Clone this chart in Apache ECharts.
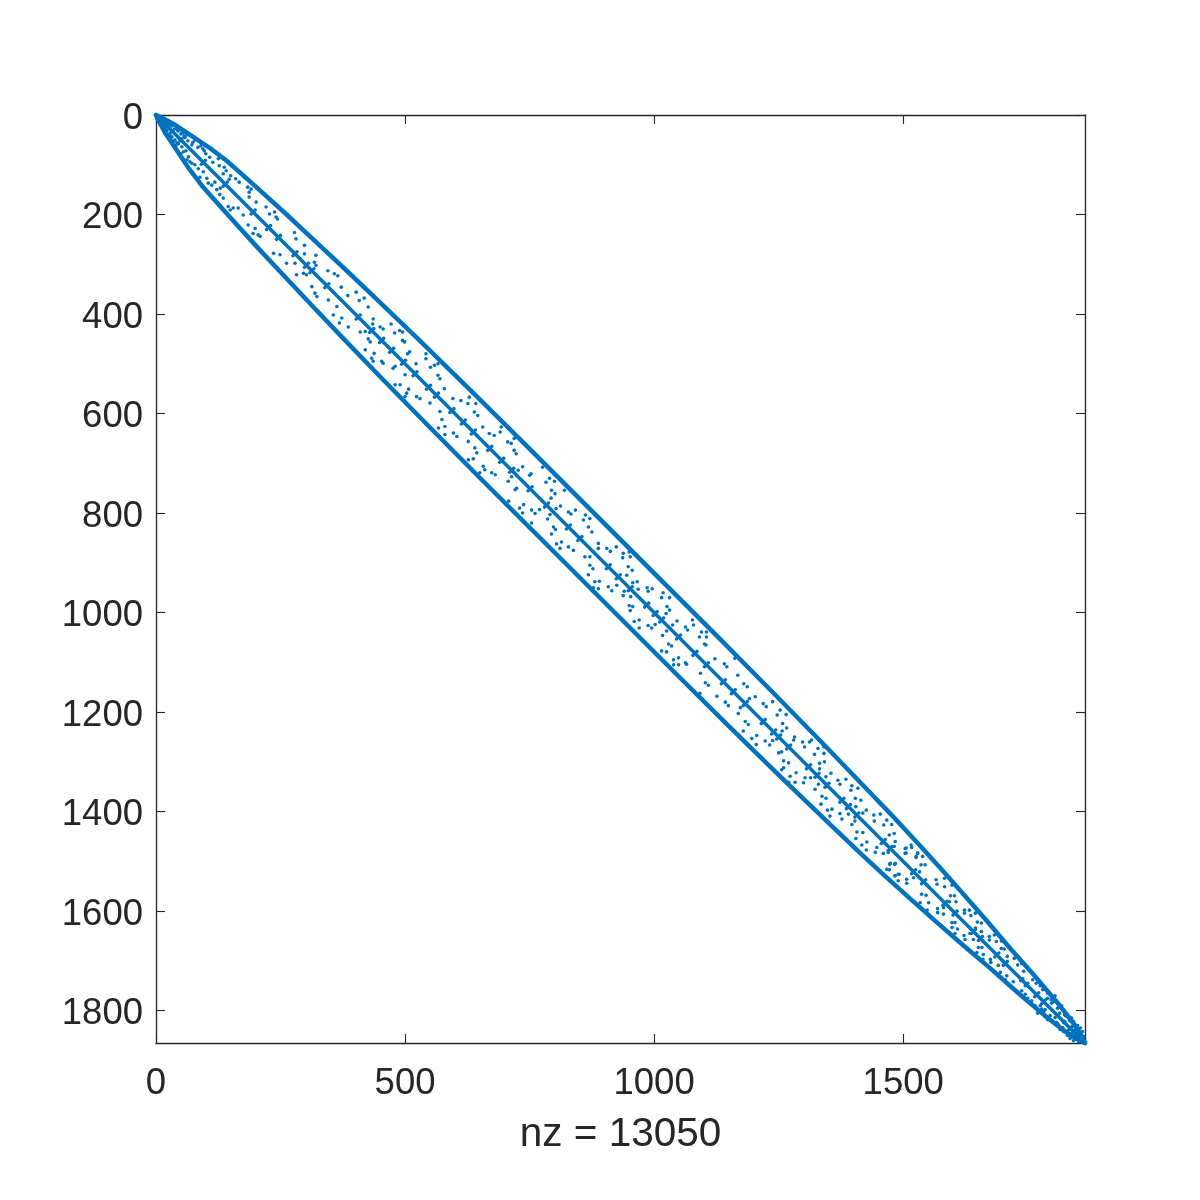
<!DOCTYPE html>
<html>
<head>
<meta charset="utf-8">
<style>html,body{margin:0;padding:0;background:#fff}#c{width:1200px;height:1200px}</style>
<script src="https://cdn.jsdelivr.net/npm/echarts@6/dist/echarts.min.js"></script>
</head>
<body>
<div id="c"></div>
<script>
const matrixSize = 1865;
const xTicks = [0, 500, 1000, 1500];
const yTicks = [0, 200, 400, 600, 800, 1000, 1200, 1400, 1600, 1800];
const xTitle = 'nz = 13050';
const mainDiagonal = [[0,0],[1865,1865]];
// outer band above the diagonal; the matrix is symmetric, so it also appears mirrored below
const outerBand = [[0,0],[11,5],[37,19],[73,43],[109,67],[143,93],[197,141],[260,198],[322,256],[384,314],[446,373],[528,452],[629,551],[730,651],[831,752],[931,852],[1031,952],[1132,1053],[1232,1154],[1331,1255],[1430,1358],[1479,1409],[1527,1461],[1575,1514],[1622,1567],[1669,1621],[1715,1675],[1762,1728],[1790,1761],[1808,1782],[1835,1816],[1851,1839],[1865,1865]];
// entries read below the diagonal; each also appears mirrored
const innerEntries = [[8,14],[12,22],[15,20],[22,32],[25,42],[32,44],[38,50],[45,58],[48,52],[60,72],
[20,30],[30,50],[40,62],[50,78],[62,90],[78,100],[85,108],[88,125],[118,135],[122,150],[128,160],
[18,27],[28,37],[35,54],[52,64],[55,74],[65,84],[68,94],[72,97],[95,114],[102,127],[105,137],[112,141],[129,147],[135,167],[145,184],[155,187],[165,187],[149,191],[175,201],[185,221],[199,228],[195,238],[205,241],[209,244],[236,278],[249,281],[262,298],[279,298],[296,318],[282,321],[302,321],[313,345],[319,358],[323,365],
[356,402],[368,418],[363,385],[346,372],
[373,408],[386,426],[410,436],[420,435],[426,450],[430,456],[420,472],[438,479],[433,489],[436,495],[453,495],[456,499],[480,505],[476,509],[500,522],[480,542],[490,542],[507,551],[503,559],[500,566],[523,566],[530,570],[550,579],[570,596],[574,612],[567,629],[580,626],[580,642],[597,639],[604,646],[627,656],[640,669],[644,679],[627,693],[637,691],[657,706],[674,719],[681,723],[650,719],[660,713],[707,736],[714,727],[721,753],[724,750],
[708,776],[730,790],[738,783],[736,800],[754,794],[761,801],[770,793],[754,820],
[786,812],[791,803],[798,828],[802,833],[794,842],[814,858],[804,862],[811,871],[828,868],[838,875],[861,888],[871,888],[871,905],[877,912],[868,924],[881,938],[890,937],[878,950],[888,952],[908,948],[915,956],[925,945],[940,957],[938,966],[953,968],[957,988],[950,986],[952,996],[970,1015],[960,1018],[970,1031],[988,1026],[995,1031],[1002,1024],[1029,1063],[1035,1067],[1017,1046],[1025,1037],[1015,1077],[1025,1079],[1039,1095],[1049,1091],[1039,1105],[1049,1105],[1063,1101],[1065,1104],[1093,1122],[1103,1141],[1109,1146],[1092,1162],[1126,1168],
[1143,1180],[1149,1187],[1173,1191],[1169,1203],[1183,1219],[1189,1225],[1179,1238],[1196,1253],[1206,1247],[1205,1265],[1223,1258],[1232,1266],[1238,1257],[1250,1282],[1256,1280],[1260,1298],[1270,1302],[1260,1312],[1256,1316],[1285,1322],[1273,1329],[1270,1341],[1283,1341],[1303,1332],[1300,1342],[1314,1332],[1323,1355],[1330,1345],[1337,1369],[1345,1373],[1335,1385],[1348,1397],[1357,1395],[1353,1409],[1373,1404],[1377,1415],[1390,1405],[1397,1426],[1403,1419],[1407,1441],[1419,1442],[1405,1454],[1427,1461],[1417,1467],[1426,1477],[1447,1472],[1444,1482],[1470,1482],[1460,1484],[1484,1504],[1474,1504],[1467,1516],[1490,1526],[1484,1529],
[1473,1506],[1483,1506],[1472,1517],[1483,1529],[1492,1526],[1490,1539],
[1507,1536],[1507,1544],[1521,1533],[1537,1566],[1546,1568],[1534,1583],[1551,1583],[1548,1598],[1569,1595],[1569,1603],[1581,1593],[1581,1606],[1598,1623],[1604,1623],[1598,1633],[1609,1636],[1604,1645],[1622,1649],[1624,1657],[1634,1645],[1641,1657],[1651,1673],[1658,1673],[1648,1683],[1661,1687],[1660,1697],[1675,1697],[1676,1703],[1691,1709],[1695,1723],[1708,1730],[1705,1738],[1721,1742],[1736,1740],[1738,1760],[1745,1750],[1745,1767],[1758,1780],[1778,1797],[1785,1798],[1795,1810],[1805,1814],[1808,1824],[1822,1824],[1820,1834],[1832,1839],[1839,1844],[1845,1851],[1790,1818],[1812,1830],[1828,1845],
[1750,1775],[1765,1790],[1775,1790],[1770,1805],[1785,1812],[1800,1822],[1815,1838],[1830,1850],[1835,1856],[1848,1858],
[1782,1802],[1796,1818],[1810,1826],[1822,1842],[1838,1850],[1842,1860],[1852,1862],[1856,1860],
[4,8],[10,16],[16,24],[28,42],[42,56]];
// near-diagonal entries that thicken the main diagonal
const nearDiagonal = [[91,99],[135,143],[191,199],[222,230],[242,250],[275,283],[298,306],[309,317],[339,347],[402,410],[429,437],[449,457],[469,477],[493,501],[516,524],[543,551],[559,567],[590,598],[613,621],[633,641],[666,674],[690,698],[710,718],[747,755],[780,788],[824,832],[847,855],[904,912],[924,932],[948,956],[981,989],[998,1006],[1011,1019],[1045,1053],[1078,1086],[1101,1109],[1135,1143],[1155,1163],[1179,1187],[1215,1223],[1236,1244],[1246,1254],[1266,1274],[1306,1314],[1323,1331],[1343,1351],[1373,1381],[1386,1394],[1403,1411],[1456,1464],[1470,1478],[1517,1525],[1537,1545],[1580,1588],[1600,1608],[1637,1645],[1651,1659],[1684,1692],[1701,1709],[1764,1772],[1778,1786]];

const mirror = a => a.map(p => [p[1], p[0]]);
const both = a => a.concat(mirror(a));
const BLUE = '#0072BD', INK = '#262626', FONT = '"Liberation Sans", Arial, sans-serif';
const bandLine = (d, w) => ({type:'line', data:d, showSymbol:false, symbol:'none', clip:false, silent:true,
  lineStyle:{color:BLUE, width:w, cap:'round', join:'round'}});
const dots = (d, s) => ({type:'scatter', data:d, symbol:'circle', symbolSize:s, clip:false, silent:true,
  itemStyle:{color:BLUE, opacity:1}});
const lineCfg = {show:true, onZero:false, lineStyle:{color:INK, width:1.3}};
const tickCfg = v => ({show:true, inside:true, length:9, customValues:v, lineStyle:{color:INK, width:1.1}});
const base = {type:'value', min:0, max:matrixSize, splitLine:{show:false}, axisLine:lineCfg};
const plain = v => String(v);

const chart = echarts.init(document.getElementById('c'), null, {renderer:'canvas'});
chart.setOption({
  animation:false,
  backgroundColor:'#fff',
  grid:{left:156, right:115, top:115, bottom:157, containLabel:false},
  xAxis:[
    Object.assign({}, base, {position:'bottom', axisTick:tickCfg(xTicks),
      axisLabel:{customValues:xTicks, formatter:plain, margin:22, color:INK, fontSize:36.5, fontFamily:FONT},
      name:xTitle, nameLocation:'middle', nameGap:71,
      nameTextStyle:{color:INK, fontSize:40.5, fontFamily:FONT}}),
    Object.assign({}, base, {position:'top', axisTick:tickCfg(xTicks), axisLabel:{show:false}})
  ],
  yAxis:[
    Object.assign({}, base, {position:'left', inverse:true, axisTick:tickCfg(yTicks),
      axisLabel:{customValues:yTicks, formatter: v => '{t|' + v + '}', margin:13,
        rich:{t:{padding:[7,0,0,0], color:INK, fontSize:36.5, fontFamily:FONT}}}}),
    Object.assign({}, base, {position:'right', inverse:true, axisTick:tickCfg(yTicks), axisLabel:{show:false}})
  ],
  series:[
    bandLine(mainDiagonal, 3.5),
    bandLine(outerBand, 4.5),
    bandLine(mirror(outerBand), 4.5),
    dots(both(nearDiagonal), 3.6),
    dots(both(innerEntries), 3.6)
  ]
});
</script>
</body>
</html>
